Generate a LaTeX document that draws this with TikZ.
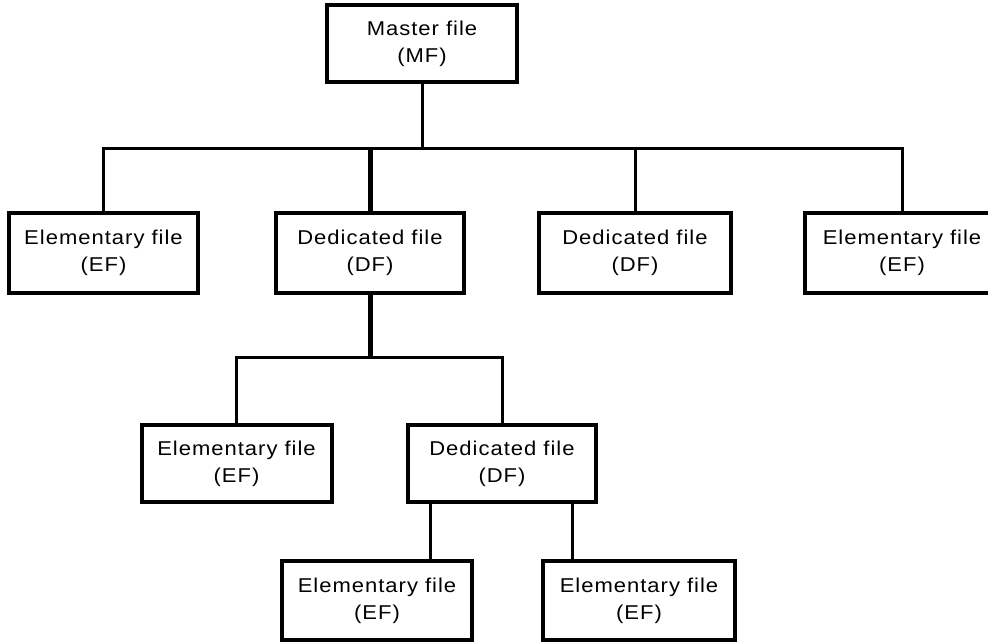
\documentclass[tikz,border=0pt]{standalone}
\usepackage{fontspec}
\newfontfamily\lblfont{Liberation Sans}[FakeStretch=1.1, LetterSpace=5]
\begin{document}
\begin{tikzpicture}[x=1pt, y=-1pt,
  filebox/.style={draw=black, line width=4pt, fill=white, inner sep=0pt,
    minimum height=80pt, align=center,
    font=\lblfont\fontsize{20}{27}\selectfont},
  link/.style={draw=black, line width=3pt},
  mainlink/.style={draw=black, line width=5pt}]
  \useasboundingbox (0,0) rectangle (988,643);
  \clip (0,0) rectangle (988,643);
  \fill[white] (0,0) rectangle (988,643);

  % top level
  \node[filebox, minimum width=190pt, minimum height=77pt] (mf) at (422,43.5) {Master file\\(MF)};

  % first level
  \node[filebox, minimum width=189pt] (ef1) at (103.5,253) {Elementary file\\(EF)};
  \node[filebox, minimum width=188pt] (df1) at (370,253) {Dedicated file\\(DF)};
  \node[filebox, minimum width=192pt] (df2) at (635,253) {Dedicated file\\(DF)};
  \node[filebox, minimum width=194pt] (ef2) at (902,253) {Elementary file\\(EF)};

  % second level
  \node[filebox, minimum width=190pt, minimum height=77pt] (ef3) at (236.5,463.5) {Elementary file\\(EF)};
  \node[filebox, minimum width=188pt, minimum height=77pt] (df3) at (502,463.5) {Dedicated file\\(DF)};

  % third level
  \node[filebox, minimum width=190pt, minimum height=79pt] (ef4) at (377,600.5) {Elementary file\\(EF)};
  \node[filebox, minimum width=192pt, minimum height=79pt] (ef5) at (639,600.5) {Elementary file\\(EF)};

  % junction points
  \coordinate (bus1) at (422,148);
  \coordinate (bus2) at (370,357);
  \coordinate (c4) at (430,0);
  \coordinate (c5) at (572,0);

  % connectors from the master file
  \draw[link] (mf.south) -- (bus1);
  \draw[link] (ef1.north) |- (bus1) -| (ef2.north);
  \draw[link] (df2.north) -- (df2.north |- bus1);
  \draw[mainlink] (df1.north) -- (df1.north |- bus1);

  % connectors from the first dedicated file
  \draw[mainlink] (df1.south) -- (bus2);
  \draw[link] (ef3.north) |- (bus2) -| (df3.north);

  % connectors from the second-level dedicated file
  \draw[link] (df3.south -| c4) -- (ef4.north -| c4);
  \draw[link] (df3.south -| c5) -- (ef5.north -| c5);
\end{tikzpicture}
\end{document}
